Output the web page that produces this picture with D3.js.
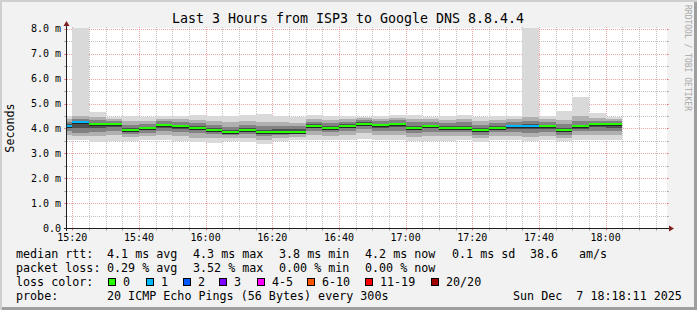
<!DOCTYPE html>
<html>
<head>
<meta charset="utf-8">
<script src="https://cdn.jsdelivr.net/npm/d3@7"></script>
<style>
  body { margin: 0; background: #f2f2f2; }
  text { font-family: "DejaVu Sans Mono", monospace; white-space: pre; fill: #000; }
</style>
</head>
<body>
<svg id="chart" width="697" height="310"></svg>
<script>
    // 5 minute slots (start time of each step)
    const slots = ["15:15","15:20","15:25","15:30","15:35","15:40","15:45","15:50","15:55",
                   "16:00","16:05","16:10","16:15","16:20","16:25","16:30","16:35","16:40",
                   "16:45","16:50","16:55","17:00","17:05","17:10","17:15","17:20","17:25",
                   "17:30","17:35","17:40","17:45","17:50","17:55","18:00"];
    // median rtt in ms
    const median = [4.11,4.27,4.19,4.17,3.95,4.00,4.14,4.09,4.03,
                    3.95,3.84,3.92,3.84,3.87,3.87,4.11,4.03,4.12,
                    4.20,4.13,4.17,4.03,4.09,4.03,4.03,3.92,4.03,
                    4.09,4.09,4.09,3.95,4.09,4.17,4.17];
    // lost pings out of 20
    const lost = [1,1,0,0,0,0,0,0,0, 0,0,0,0,0,0,0,0,0, 0,0,0,0,0,0,0,0,0, 1,1,0,0,0,0,0];
    // smoke: sorted ping bands (outer -> inner), ms
    const smokeLo1 = [3.52,3.52,3.47,3.51,3.50,3.52,3.52,3.48,3.45, 3.42,3.48,3.45,3.38,3.48,3.52,3.55,3.52,3.52,
                      3.58,3.55,3.52,3.50,3.48,3.50,3.52,3.45,3.52, 3.52,3.50,3.52,3.50,3.55,3.52,3.52];
    const smokeHi1 = [4.50,8.10,4.65,4.47,4.52,4.45,4.50,4.50,4.55, 4.50,4.50,4.55,4.60,4.50,4.45,4.55,4.50,4.50,
                      4.45,4.50,4.55,4.55,4.45,4.50,4.55,4.45,4.50, 4.50,8.10,4.50,4.72,5.25,4.62,4.45];
    const smokeLo2 = [3.75,3.68,3.70,3.72,3.65,3.68,3.72,3.70,3.62, 3.60,3.62,3.62,3.55,3.62,3.66,3.74,3.70,3.72,
                      3.80,3.74,3.72,3.66,3.68,3.68,3.70,3.60,3.68, 3.70,3.66,3.70,3.62,3.72,3.74,3.72];
    const smokeHi2 = [4.38,4.50,4.45,4.40,4.30,4.32,4.40,4.38,4.36, 4.30,4.25,4.30,4.28,4.25,4.24,4.38,4.34,4.38,
                      4.42,4.40,4.44,4.40,4.38,4.36,4.40,4.30,4.34, 4.38,4.45,4.40,4.36,4.50,4.44,4.38];
    const smokeLo3 = [3.90,3.82,3.86,3.88,3.78,3.82,3.90,3.86,3.80, 3.76,3.72,3.76,3.68,3.74,3.76,3.90,3.84,3.90,
                      3.96,3.90,3.90,3.82,3.86,3.84,3.84,3.74,3.84, 3.86,3.82,3.86,3.74,3.88,3.90,3.90];
    const smokeHi3 = [4.28,4.38,4.33,4.30,4.15,4.18,4.30,4.26,4.22, 4.14,4.08,4.14,4.10,4.10,4.10,4.28,4.22,4.28,
                      4.34,4.30,4.34,4.26,4.28,4.22,4.26,4.16,4.22, 4.28,4.30,4.28,4.18,4.30,4.32,4.30];
    const smokeLo4 = [4.02,4.00,4.02,4.05,3.88,3.92,4.04,3.98,3.94, 3.88,3.78,3.86,3.76,3.82,3.82,4.02,3.96,4.04,
                      4.10,4.04,4.06,3.96,4.00,3.96,3.96,3.84,3.96, 3.98,3.96,3.98,3.86,3.98,4.06,4.04];
    const smokeHi4 = [4.18,4.30,4.24,4.22,4.02,4.06,4.20,4.15,4.10, 4.02,3.94,4.00,3.92,3.96,3.96,4.18,4.10,4.18,
                      4.26,4.20,4.24,4.12,4.16,4.10,4.12,4.02,4.10, 4.16,4.18,4.16,4.02,4.16,4.22,4.22];

    const lossLevels = ["0","1","2","3","4-5","6-10","11-19","20/20"];
    const lossColors = ["#26ff00","#00b8ff","#0059ff","#7e00ff","#ff00ff","#ff5500","#ff0000","#a10000"];
    const yMajor = [0,1,2,3,4,5,6,7,8];

    const W = 697, H = 310;
    const X0 = 67, X1 = 667, Y0 = 228, Y1 = 28;
    const svg = d3.select("#chart");

    const parse = d3.timeParse("%H:%M:%S");
    const x = d3.scaleTime()
        .domain([parse("15:18:25"), parse("18:18:25")])
        .range([X0, X1]);
    const y = d3.scaleLinear().domain([0, 8.04]).range([Y0, Y1]);

    function lossIndex(n) {
        if (n <= 3) return n;
        if (n <= 5) return 4;
        if (n <= 10) return 5;
        if (n <= 19) return 6;
        return 7;
    }

    // frame shading
    svg.append("rect").attr("width", W).attr("height", H).attr("fill", "#cfcfcf");
    svg.append("rect").attr("x", 2).attr("y", 2).attr("width", W - 2).attr("height", H - 2).attr("fill", "#9e9e9e");
    svg.append("rect").attr("x", 2).attr("y", 2).attr("width", W - 5).attr("height", H - 5).attr("fill", "#f2f2f2");

    // canvas
    svg.append("rect").attr("x", X0).attr("y", Y1).attr("width", X1 - X0).attr("height", Y0 - Y1).attr("fill", "#fff");

    svg.append("clipPath").attr("id", "plot")
        .append("rect").attr("x", X0).attr("y", Y1).attr("width", X1 - X0).attr("height", Y0 - Y1);

    // grid
    const grid = svg.append("g").attr("shape-rendering", "crispEdges");
    const minorCol = "rgba(143,143,143,0.55)", majorCol = "rgba(222,79,79,0.5)";

    const minorX = x.ticks(d3.timeMinute.every(5));
    const majorX = x.ticks(d3.timeMinute.every(20));
    minorX.forEach(t => {
        const isMajor = t.getMinutes() % 20 === 0;
        const px = Math.round(x(t)) + 0.5;
        grid.append("line").attr("x1", px).attr("x2", px).attr("y1", Y0 + 2).attr("y2", Y1 - 2)
            .attr("stroke", isMajor ? majorCol : minorCol).attr("stroke-dasharray", "1,1");
        grid.append("line").attr("x1", px).attr("x2", px).attr("y1", Y0).attr("y2", Y0 + 3)
            .attr("stroke", isMajor ? majorCol : minorCol);
    });
    d3.range(0, 8.01, 0.5).forEach(v => {
        const isMajor = Math.abs(v - Math.round(v)) < 1e-6;
        const py = Math.round(y(v)) + 0.5;
        grid.append("line").attr("x1", X0 - 2).attr("x2", X1 + 2).attr("y1", py).attr("y2", py)
            .attr("stroke", isMajor ? majorCol : minorCol).attr("stroke-dasharray", "1,1");
        grid.append("line").attr("x1", X0 - 3).attr("x2", X0).attr("y1", py).attr("y2", py)
            .attr("stroke", isMajor ? majorCol : minorCol);
        grid.append("line").attr("x1", X1).attr("x2", X1 + 2).attr("y1", py).attr("y2", py)
            .attr("stroke", isMajor ? majorCol : minorCol);
    });

    // smoke
    const data = slots.map((s, i) => ({
        t0: parse(s + ":00"),
        t1: d3.timeMinute.offset(parse(s + ":00"), 5),
        med: median[i], loss: lost[i],
        bands: [[smokeLo1[i], smokeHi1[i]], [smokeLo2[i], smokeHi2[i]],
                [smokeLo3[i], smokeHi3[i]], [smokeLo4[i], smokeHi4[i]]]
    }));
    const bandColors = ["#d9d9d9", "#b0b0b0", "#828282", "#4f4f4f"];

    const plot = svg.append("g").attr("clip-path", "url(#plot)").attr("shape-rendering", "crispEdges");
    data.forEach(d => {
        const bx = Math.round(x(d.t0)), bw = Math.round(x(d.t1)) - bx;
        d.bands.forEach((b, k) => {
            plot.append("rect")
                .attr("x", bx).attr("width", bw)
                .attr("y", Math.round(y(b[1])))
                .attr("height", Math.round(y(b[0])) - Math.round(y(b[1])))
                .attr("fill", bandColors[k]);
        });
    });
    // median lines, with the dark smoke core just under them
    plot.selectAll(".core")
        .data(data)
        .enter()
        .append("rect")
        .attr("x", d => Math.round(x(d.t0)))
        .attr("width", d => Math.round(x(d.t1)) - Math.round(x(d.t0)))
        .attr("y", d => Math.round(y(d.med)) + 1)
        .attr("height", 1)
        .attr("fill", "#262626");
    plot.selectAll(".med")
        .data(data)
        .enter()
        .append("rect")
        .attr("x", d => Math.round(x(d.t0)))
        .attr("width", d => Math.round(x(d.t1)) - Math.round(x(d.t0)))
        .attr("y", d => Math.round(y(d.med)) - 1)
        .attr("height", 2)
        .attr("fill", d => lossColors[lossIndex(d.loss)]);

    // axes
    const axisCol = "#1f1f1f", arrowCol = "#7f1f1f";
    svg.append("line").attr("x1", X0 - 3).attr("x2", X1 + 3).attr("y1", Y0 + 0.5).attr("y2", Y0 + 0.5)
        .attr("stroke", axisCol).attr("shape-rendering", "crispEdges");
    svg.append("line").attr("x1", X0 - 0.5).attr("x2", X0 - 0.5).attr("y1", Y0 + 3).attr("y2", Y1 - 4)
        .attr("stroke", axisCol).attr("shape-rendering", "crispEdges");
    svg.append("path").attr("d", `M${X1 + 7},${Y0 + 0.5} L${X1 + 2},${Y0 - 2.5} L${X1 + 2},${Y0 + 3.5} Z`)
        .attr("fill", arrowCol);
    svg.append("path").attr("d", `M${X0 - 0.5},${Y1 - 7} L${X0 - 3.5},${Y1 - 2} L${X0 + 2.5},${Y1 - 2} Z`)
        .attr("fill", arrowCol);

    // tick labels
    const fmtTime = d3.timeFormat("%H:%M");
    svg.selectAll(".xlab")
        .data(majorX)
        .enter()
        .append("text")
        .attr("x", d => x(d))
        .attr("y", 241)
        .attr("text-anchor", "middle")
        .attr("font-size", "10px")
        .text(d => fmtTime(d));
    svg.selectAll(".ylab")
        .data(yMajor)
        .enter()
        .append("text")
        .attr("x", 61)
        .attr("y", d => y(d) + 3.5)
        .attr("text-anchor", "end")
        .attr("font-size", "10px")
        .text(d => d === 0 ? "0.0" : d3.format(".1f")(d) + " m");

    // title and labels
    svg.append("text").attr("x", 348).attr("y", 23).attr("text-anchor", "middle")
        .attr("font-size", "13.3px").text("Last 3 Hours from ISP3 to Google DNS 8.8.4.4");
    svg.append("text").attr("transform", "translate(14,128) rotate(-90)").attr("text-anchor", "middle")
        .attr("font-size", "11.7px").text("Seconds");
    svg.append("text").attr("transform", "translate(685,5) rotate(90)")
        .attr("font-size", "8px").style("fill", "#a8a8a8").text("RRDTOOL / TOBI OETIKER");

    // legend
    const legend = [
        [258, [[16, "median rtt:"], [107, "4.1 ms avg"], [193, "4.3 ms max"], [279, "3.8 ms min"],
               [365, "4.2 ms now"], [452, "0.1 ms sd"], [530, "38.6"], [579, "am/s"]]],
        [272, [[16, "packet loss:"], [107, "0.29 % avg"], [193, "3.52 % max"], [279, "0.00 % min"],
               [365, "0.00 % now"]]],
        [286, [[16, "loss color:"]]],
        [300, [[16, "probe:"], [107, "20 ICMP Echo Pings (56 Bytes) every 300s"], [513, "Sun Dec  7 18:18:11 2025"]]]
    ];
    legend.forEach(([ly, items]) => {
        items.forEach(([lx, txt]) => {
            svg.append("text").attr("x", lx).attr("y", ly).attr("font-size", "11.7px").text(txt);
        });
    });
    const swatchX = [108, 146, 183, 219, 257, 307, 365, 431];
    lossLevels.forEach((lab, i) => {
        svg.append("rect").attr("x", swatchX[i] + 0.5).attr("y", 278.5).attr("width", 7).attr("height", 7)
            .attr("fill", lossColors[i]).attr("stroke", "#000");
        svg.append("text").attr("x", swatchX[i] + 15).attr("y", 286).attr("font-size", "11.7px").text(lab);
    });
</script>
</body>
</html>
